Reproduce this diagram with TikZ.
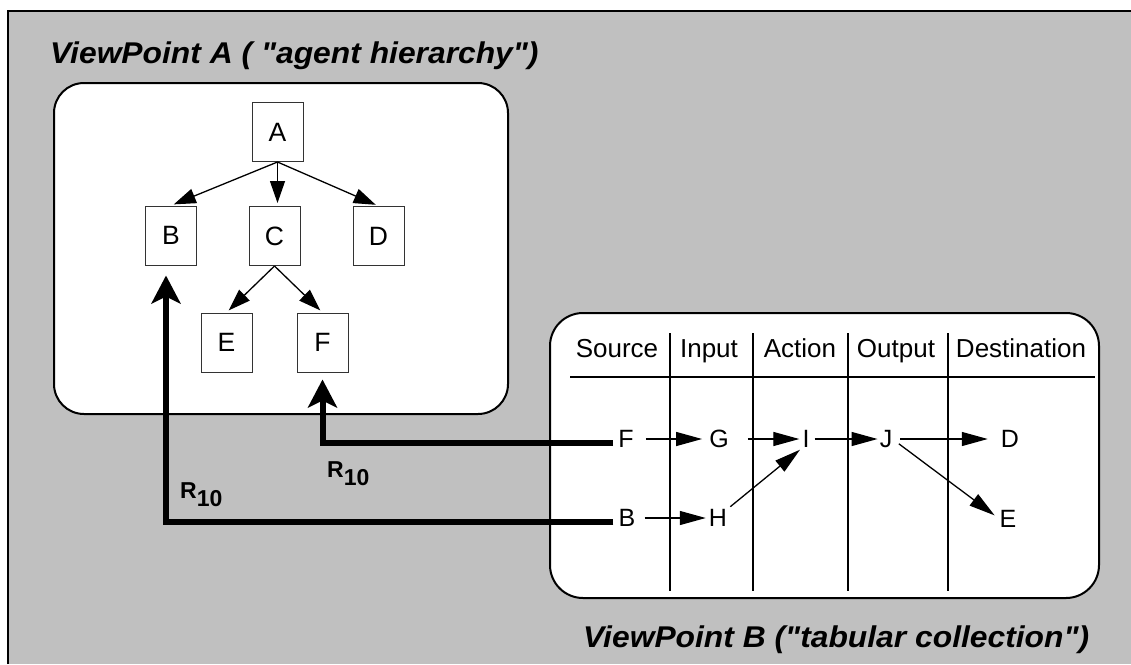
\documentclass[tikz,border=0pt]{standalone}
\usepackage{fontspec}
\setmainfont{Liberation Sans}[Ligatures=TeXOff]
\newfontfamily\titlefont{Liberation Sans}[Ligatures=TeXOff,FakeStretch=1.06]
\usetikzlibrary{arrows.meta}
\definecolor{panel}{HTML}{C0C0C0}
\begin{document}
\begin{tikzpicture}[x=1pt,y=-1pt,
    box/.style={draw=black!80,line width=1pt,minimum width=51pt,minimum height=59pt,inner sep=0pt,font=\fontsize{26.5}{31}\selectfont},
    cell/.style={inner sep=0pt,font=\fontsize{25}{30}\selectfont},
    head/.style={anchor=base,inner sep=0pt,font=\fontsize{26}{31}\selectfont},
    title/.style={anchor=base west,inner sep=0pt,font=\titlefont\fontsize{30}{36}\selectfont\bfseries\itshape},
    rlab/.style={anchor=base west,inner sep=0pt,font=\fontsize{23}{28}\selectfont\bfseries},
    view/.style={draw,fill=white,line width=2pt},
    rule/.style={line width=1.3pt},
    tree/.style={line width=1.3pt,-{Triangle[length=22pt,width=15pt]},shorten >=3pt},
    flow/.style={line width=1.3pt,-{Triangle[length=26pt,width=14pt]}},
    link/.style={line width=6pt,-{Stealth[length=28pt,width=29pt,inset=7pt]}}]
  \useasboundingbox (0,0) rectangle (1131,664);
  \fill[panel] (8,11) rectangle (1131,664);
  \draw[line width=2pt] (8,664) -- (8,11) -- (1131,11);
  % ViewPoint A
  \node[title] (ta) at (50,63) {ViewPoint A ( "agent hierarchy")};
  \draw[view,rounded corners=30pt] (54,83) rectangle (508,414);
  \node[box] (a) at (277.5,132) {A};
  \node[box] (b) at (171,235.5) {B};
  \node[box] (c) at (274.5,236) {C};
  \node[box] (d) at (378.5,236) {D};
  \node[box] (e) at (226.5,342.5) {E};
  \node[box] (f) at (322.5,342.5) {F};
  \draw[tree] (a.south) -- (b.north);
  \draw[tree] (a.south) -- (a.south |- c.north);
  \draw[tree] (a.south) -- (d.north);
  \draw[tree] (c.south) -- (e.north);
  \draw[tree] (c.south) -- (f.north);
  % ViewPoint B
  \draw[view,rounded corners=33pt] (550,313) rectangle (1099,598);
  \draw[rule] (570,377) -- (1095,377);
  \foreach \x in {670,753,848,948}{\draw[rule] (\x,333) -- (\x,591);}
  \foreach \x/\t in {617/Source,709/Input,800/Action,896/Output,1021/Destination}{\node[head] (\t) at (\x,357) {\t};}
  \node[title] (tb) at (583,647) {ViewPoint B ("tabular collection")};
  \node[cell] (sf) at (626,439) {F};
  \node[cell] (ig) at (719,439) {G};
  \node[cell] (ai) at (806,439) {I};
  \node[cell] (oj) at (886,439) {J};
  \node[cell] (dd) at (1010,439) {D};
  \node[cell] (sb) at (627,518) {B};
  \node[cell] (ih) at (718,518) {H};
  \node[cell] (de) at (1008,519) {E};
  \draw[flow,shorten <=12pt,shorten >=7pt] (sf) -- (ig);
  \draw[flow,shorten <=19pt,shorten >=3pt] (ig) -- (ai);
  \draw[flow,shorten <=5pt,shorten >=2pt] (ai) -- (oj);
  \draw[flow,shorten <=8pt,shorten >=13pt] (oj) -- (dd);
  \draw[flow,shorten <=9pt,shorten >=3pt] (sb) -- (ih);
  \draw[flow,shorten <=4pt,shorten >=3pt] (ih.north east) -- (ai.south west);
  \draw[flow,shorten <=8pt,shorten >=6pt] (oj.east) -- (de.west);
  % R10 links
  \draw[link,shorten <=5pt,shorten >=7pt] ([yshift=-4pt]sf.west) -| (f.south);
  \draw[link,shorten <=5pt,shorten >=10pt] ([yshift=-4pt]sb.west) -| ([xshift=-5pt]b.south);
  \node[rlab] (r1) at (180,498) {R\raisebox{-8.5pt}{10}};
  \node[rlab] (r2) at (327,477) {R\raisebox{-8.5pt}{10}};
\end{tikzpicture}
\end{document}
